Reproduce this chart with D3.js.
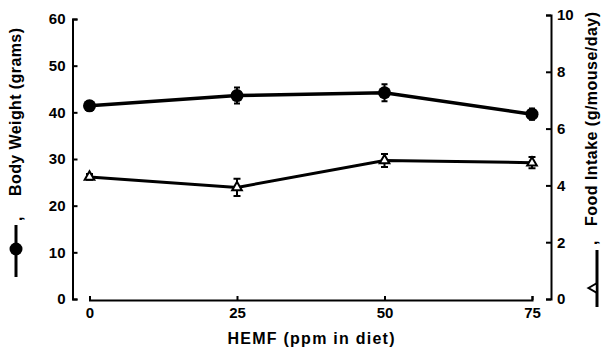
<!DOCTYPE html>
<html>
<head>
<meta charset="utf-8">
<script src="https://cdn.jsdelivr.net/npm/d3@7"></script>
<style>
  body { margin: 0; background: #fff; }
  svg { display: block; font-family: "Liberation Sans", Arial, sans-serif; }
  .axis text { font-size: 15px; font-weight: bold; fill: #000; }
  .axis path, .axis line { stroke: #000; stroke-width: 2; }
</style>
</head>
<body>
<svg></svg>
<script>
// HEMF dose groups and readings taken off the figure
const doses = [0, 25, 50, 75];
const bodyWeight = [41.4, 43.6, 44.2, 39.6];
const bodyWeightErr = [1.0, 1.7, 1.8, 1.2];
const foodIntake = [4.3, 3.93, 4.88, 4.8];
const foodIntakeErr = [0.1, 0.3, 0.23, 0.2];
const leftTicks = [0, 10, 20, 30, 40, 50, 60];
const rightTicks = [0, 2, 4, 6, 8, 10];

let width = 601;
let height = 358;

let svg = d3.select('svg')
    .attr('width', width)
    .attr('height', height);

let xScale = d3.scaleLinear().domain([0, 75]).range([89.5, 532]);
let yLeft = d3.scaleLinear().domain([0, 60]).range([299, 19]);
let yRight = d3.scaleLinear().domain([0, 10]).range([299, 15]);

const bodyRows = doses.map((d, i) => ({ x: d, y: bodyWeight[i], e: bodyWeightErr[i] }));
const foodRows = doses.map((d, i) => ({ x: d, y: foodIntake[i], e: foodIntakeErr[i] }));

// axes
svg.append('g')
    .attr('class', 'axis')
    .attr('transform', 'translate(72.5,0)')
    .call(d3.axisLeft(yLeft).tickValues(leftTicks).tickSizeInner(-5).tickSizeOuter(-5).tickPadding(7));

svg.append('g')
    .attr('class', 'axis')
    .attr('transform', 'translate(551,0)')
    .call(d3.axisRight(yRight).tickValues(rightTicks).tickSizeInner(-5).tickSizeOuter(-5).tickPadding(6));

svg.append('g')
    .attr('class', 'axis')
    .attr('transform', 'translate(0,300)')
    .call(d3.axisBottom(xScale).tickValues(doses).tickSizeInner(-4).tickSizeOuter(-4).tickPadding(7));

svg.selectAll('.axis path, .axis line').attr('stroke-width', 2);

// body weight series
svg.append('path')
    .datum(bodyRows)
    .attr('fill', 'none')
    .attr('stroke', '#000')
    .attr('stroke-width', 3.5)
    .attr('d', d3.line().x(d => xScale(d.x)).y(d => yLeft(d.y)));

svg.selectAll('.bw-err')
    .data(bodyRows)
    .enter()
    .append('path')
    .attr('class', 'bw-err')
    .attr('fill', 'none')
    .attr('stroke', '#000')
    .attr('stroke-width', 2)
    .attr('d', d => {
        let x = xScale(d.x), y0 = yLeft(d.y - d.e), y1 = yLeft(d.y + d.e);
        return 'M' + (x - 3) + ',' + y0 + 'H' + (x + 3) + 'M' + x + ',' + y0 + 'V' + y1 + 'M' + (x - 3) + ',' + y1 + 'H' + (x + 3);
    });

svg.selectAll('.bw-dot')
    .data(bodyRows)
    .enter()
    .append('circle')
    .attr('class', 'bw-dot')
    .attr('cx', d => xScale(d.x))
    .attr('cy', d => yLeft(d.y))
    .attr('r', 6.5)
    .attr('fill', '#000');

// food intake series
svg.append('path')
    .datum(foodRows)
    .attr('fill', 'none')
    .attr('stroke', '#000')
    .attr('stroke-width', 3)
    .attr('d', d3.line().x(d => xScale(d.x)).y(d => yRight(d.y)));

svg.selectAll('.fi-err')
    .data(foodRows)
    .enter()
    .append('path')
    .attr('class', 'fi-err')
    .attr('fill', 'none')
    .attr('stroke', '#000')
    .attr('stroke-width', 2)
    .attr('d', d => {
        let x = xScale(d.x), y0 = yRight(d.y - d.e), y1 = yRight(d.y + d.e);
        return 'M' + (x - 3.5) + ',' + y0 + 'H' + (x + 3.5) + 'M' + x + ',' + y0 + 'V' + y1 + 'M' + (x - 3.5) + ',' + y1 + 'H' + (x + 3.5);
    });

const tri = d3.symbol().type(d3.symbolTriangle).size(40);

svg.selectAll('.fi-dot')
    .data(foodRows)
    .enter()
    .append('path')
    .attr('class', 'fi-dot')
    .attr('transform', d => 'translate(' + xScale(d.x) + ',' + yRight(d.y) + ')')
    .attr('d', tri)
    .attr('fill', '#fff')
    .attr('stroke', '#000')
    .attr('stroke-width', 2);

// axis titles
svg.append('text')
    .attr('x', 311)
    .attr('y', 344)
    .attr('text-anchor', 'middle')
    .attr('textLength', 167)
    .style('font-size', '16px')
    .style('font-weight', 'bold')
    .text('HEMF (ppm in diet)');

svg.append('text')
    .attr('transform', 'translate(21,196) rotate(-90)')
    .attr('textLength', 168)
    .style('font-size', '16px')
    .style('font-weight', 'bold')
    .text('Body Weight (grams)');

svg.append('text')
    .attr('transform', 'translate(22,221) rotate(-90)')
    .style('font-size', '16px')
    .style('font-weight', 'bold')
    .text(',');

svg.append('line')
    .attr('x1', 16).attr('x2', 16)
    .attr('y1', 225).attr('y2', 277)
    .attr('stroke', '#000').attr('stroke-width', 3);

svg.append('circle')
    .attr('cx', 16).attr('cy', 249).attr('r', 6.5)
    .attr('fill', '#000');

svg.append('text')
    .attr('transform', 'translate(597,226) rotate(-90)')
    .attr('textLength', 214)
    .style('font-size', '16px')
    .style('font-weight', 'bold')
    .text('Food Intake (g/mouse/day)');

svg.append('text')
    .attr('transform', 'translate(597,245) rotate(-90)')
    .style('font-size', '16px')
    .style('font-weight', 'bold')
    .text(',');

svg.append('line')
    .attr('x1', 597).attr('x2', 597)
    .attr('y1', 250).attr('y2', 307)
    .attr('stroke', '#000').attr('stroke-width', 3);

svg.append('path')
    .attr('transform', 'translate(594,288) rotate(-90)')
    .attr('d', tri)
    .attr('fill', '#fff')
    .attr('stroke', '#000')
    .attr('stroke-width', 2);
</script>
</body>
</html>
